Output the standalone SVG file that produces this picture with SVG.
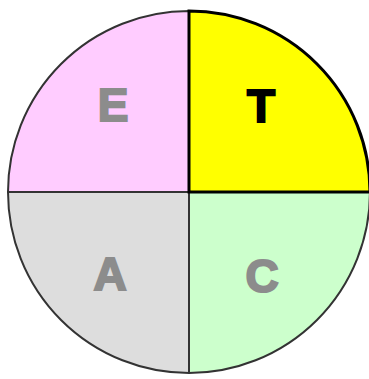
<svg xmlns="http://www.w3.org/2000/svg" width="369" height="379" viewBox="0 0 369 379">
<style>
.lbl{font-family:"Liberation Sans",Arial,sans-serif;font-weight:bold;font-size:46px;text-anchor:middle;fill:#8c8c8c;stroke:#8c8c8c;stroke-width:2;stroke-linejoin:miter}
.q{stroke:#333;stroke-width:2}
</style>
<rect width="369" height="379" fill="#fff"/>
<g id="E"><path class="q" d="M189 192 L8 192 A181 181 0 0 1 189 11 Z" fill="#ffccff" stroke="#4a3a4a"/><text class="lbl" x="113" y="121">E</text></g>
<g id="A"><path class="q" d="M189 192 L8 192 A181 181 0 0 0 189 373 Z" fill="#dddddd"/><text class="lbl" x="110" y="290">A</text></g>
<g id="C"><path class="q" d="M189 192 L370 192 A181 181 0 0 1 189 373 Z" fill="#ccffcc"/><text class="lbl" x="262" y="292">C</text></g>
<g id="T"><path d="M189 192 L370 192 A181 181 0 0 0 189 11 Z" fill="#ffff00" stroke="#000" stroke-width="3"/><text class="lbl" x="261" y="122" style="fill:#000;stroke:#000">T</text></g>
</svg>
